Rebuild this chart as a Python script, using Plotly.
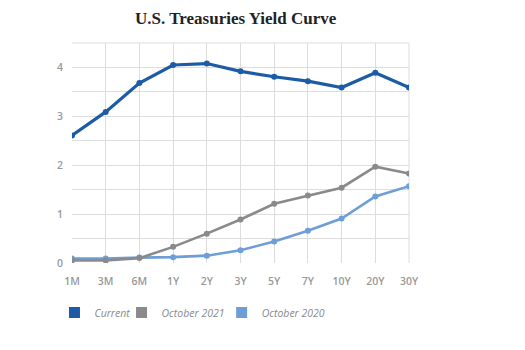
import plotly.graph_objects as go

categories = ["1M", "3M", "6M", "1Y", "2Y", "3Y", "5Y", "7Y", "10Y", "20Y", "30Y"]
current = [2.61, 3.09, 3.68, 4.05, 4.08, 3.92, 3.81, 3.72, 3.59, 3.89, 3.59]
oct_2021 = [0.05, 0.05, 0.10, 0.33, 0.60, 0.89, 1.21, 1.38, 1.54, 1.97, 1.83]
oct_2020 = [0.09, 0.09, 0.11, 0.12, 0.15, 0.26, 0.44, 0.66, 0.91, 1.36, 1.57]
y_ticks = [0, 1, 2, 3, 4]

series = [
    ("Current", current, "#1c5ca6", 3.2),
    ("October 2021", oct_2021, "#8a8a8c", 2.6),
    ("October 2020", oct_2020, "#6e9ed8", 2.6),
]
legend_ids = ["legend", "legend2", "legend3"]
legend_x = [-0.052, 0.147, 0.444]

fig = go.Figure()
# draw in reverse so Current is on top
for name, vals, color, w in reversed(series):
    fig.add_trace(go.Scatter(
        x=categories, y=vals, mode="lines+markers", name=name,
        line=dict(color=color, width=w),
        marker=dict(color=color, size=6),
        showlegend=False,
    ))
for (name, vals, color, w), lid in zip(series, legend_ids):
    fig.add_trace(go.Scatter(
        x=[None], y=[None], mode="markers", name=name,
        marker=dict(color=color, size=11, symbol="square"),
        showlegend=True, legend=lid,
    ))

legend_style = dict(orientation="h", xanchor="left", y=-0.225, yanchor="middle",
                    font=dict(family="Open Sans", size=10.5, color="#8a8a8a", style="italic"),
                    itemclick=False, bgcolor="rgba(0,0,0,0)")

fig.update_layout(
    width=525, height=350,
    margin=dict(l=72, r=116, t=43, b=87),
    paper_bgcolor="white", plot_bgcolor="white",
    title=dict(text="U.S. Treasuries Yield Curve", x=0.449, xref="container",
               xanchor="center", y=0.948, yanchor="middle",
               font=dict(family="Liberation Serif", size=17, color="#222222", weight="bold")),
    legend=dict(x=legend_x[0], **legend_style),
    legend2=dict(x=legend_x[1], **legend_style),
    legend3=dict(x=legend_x[2], **legend_style),
    font=dict(family="Open Sans", size=10, color="#999999"),
)
fig.update_xaxes(
    range=[0, len(categories) - 1], showgrid=True, gridcolor="#dddddd", gridwidth=1,
    showline=False, zeroline=False, ticks="", ticklabelstandoff=10,
    tickfont=dict(family="Open Sans", size=10.5, color="#999999", weight=600),
    fixedrange=True,
)
fig.update_yaxes(
    range=[0, 4.5], tickvals=y_ticks, showgrid=True, gridcolor="#dddddd", gridwidth=1,
    minor=dict(dtick=0.5, showgrid=True, gridcolor="#dddddd", gridwidth=1),
    showline=False, zeroline=False, ticks="", ticklabelstandoff=8,
    tickfont=dict(family="Open Sans", size=10.5, color="#999999", weight=600),
    fixedrange=True,
)
fig.add_shape(type="line", xref="paper", yref="paper", x0=0, x1=1, y0=1, y1=1,
              line=dict(color="#dddddd", width=1), layer="below")
fig.add_shape(type="line", xref="paper", yref="paper", x0=1, x1=1, y0=0, y1=1,
              line=dict(color="#dddddd", width=1), layer="below")

fig.write_html("out.html")
